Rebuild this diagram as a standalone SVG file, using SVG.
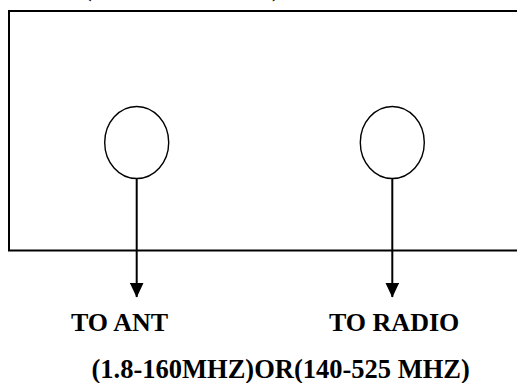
<svg xmlns="http://www.w3.org/2000/svg" width="517" height="383" viewBox="0 0 517 383">
<style>
.lbl{font-family:"Liberation Serif","Times New Roman",serif;font-weight:bold;font-size:26px;fill:#000}
.ln{stroke:#000;stroke-width:2;fill:none}
.port{stroke:#000;stroke-width:1.4;fill:#fff}
</style>
<defs>
<marker id="ah" markerWidth="15" markerHeight="14" refX="14.5" refY="7" orient="auto" markerUnits="userSpaceOnUse" viewBox="0 0 15 14">
<path d="M0,0 L15,7 L0,14 Z" fill="#000"/>
</marker>
</defs>
<rect width="517" height="383" fill="#fff"/>
<text class="lbl" x="83" y="-4">(</text>
<text class="lbl" x="272" y="-4">)</text>
<g id="box">
<rect x="9" y="11" width="520" height="239.5" class="ln"/>
</g>
<g id="port-ant">
<ellipse cx="136.7" cy="142.5" rx="32" ry="36" class="port"/>
</g>
<g id="port-radio">
<ellipse cx="392.3" cy="142.5" rx="32" ry="36" class="port"/>
</g>
<g id="connectors">
<path d="M136.7,178.5 V297" class="ln" marker-end="url(#ah)"/>
<path d="M392.3,178.5 V297" class="ln" marker-end="url(#ah)"/>
</g>
<text class="lbl" x="71" y="331">TO ANT</text>
<text class="lbl" x="329" y="331">TO RADIO</text>
<text class="lbl" x="91.5" y="378" style="font-size:26.5px">(1.8-160MHZ)OR(140-525 MHZ)</text>
</svg>
